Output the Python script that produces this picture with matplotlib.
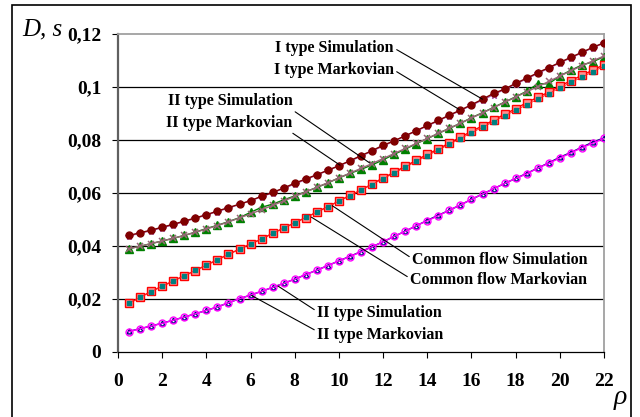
import matplotlib
matplotlib.use("Agg")
import matplotlib.pyplot as plt
from matplotlib.patches import Rectangle
import numpy as np

rho = [0.5, 1, 1.5, 2, 2.5, 3, 3.5, 4, 4.5, 5, 5.5, 6, 6.5, 7, 7.5, 8, 8.5, 9, 9.5, 10, 10.5,
       11, 11.5, 12, 12.5, 13, 13.5, 14, 14.5, 15, 15.5, 16, 16.5, 17, 17.5, 18, 18.5, 19,
       19.5, 20, 20.5, 21, 21.5, 22]

type1_sim = [0.0440, 0.0450, 0.0460, 0.0471, 0.0482, 0.0494, 0.0506, 0.0518, 0.0532, 0.0545,
             0.0558, 0.0571, 0.0588, 0.0602, 0.0619, 0.0637, 0.0653, 0.0669, 0.0686, 0.0703,
             0.0722, 0.0741, 0.0760, 0.0780, 0.0797, 0.0816, 0.0835, 0.0855, 0.0874, 0.0894,
             0.0913, 0.0933, 0.0954, 0.0976, 0.0992, 0.1014, 0.1033, 0.1054, 0.1073, 0.1093,
             0.1112, 0.1131, 0.1150, 0.1167]
type1_mark = [0.0438, 0.0448, 0.0458, 0.0469, 0.0480, 0.0492, 0.0504, 0.0517, 0.0530, 0.0543,
              0.0557, 0.0571, 0.0586, 0.0601, 0.0617, 0.0634, 0.0651, 0.0668, 0.0685, 0.0702,
              0.0720, 0.0739, 0.0758, 0.0777, 0.0796, 0.0815, 0.0834, 0.0853, 0.0872, 0.0892,
              0.0911, 0.0931, 0.0951, 0.0971, 0.0991, 0.1011, 0.1031, 0.1051, 0.1071, 0.1091,
              0.1110, 0.1129, 0.1148, 0.1166]
type2_sim = [0.0390, 0.0399, 0.0409, 0.0419, 0.0429, 0.0440, 0.0452, 0.0466, 0.0478, 0.0492,
             0.0507, 0.0527, 0.0546, 0.0558, 0.0574, 0.0589, 0.0605, 0.0621, 0.0638, 0.0657,
             0.0674, 0.0689, 0.0706, 0.0725, 0.0746, 0.0765, 0.0786, 0.0805, 0.0825, 0.0844,
             0.0863, 0.0884, 0.0903, 0.0923, 0.0943, 0.0963, 0.0984, 0.1012, 0.1012, 0.1042,
             0.1063, 0.1083, 0.1095, 0.1115]
type2_mark = [0.0390, 0.0399, 0.0409, 0.0419, 0.0429, 0.0440, 0.0452, 0.0464, 0.0477, 0.0491,
              0.0506, 0.0521, 0.0537, 0.0553, 0.0570, 0.0587, 0.0604, 0.0621, 0.0639, 0.0657,
              0.0675, 0.0693, 0.0711, 0.0730, 0.0749, 0.0768, 0.0787, 0.0806, 0.0825, 0.0844,
              0.0863, 0.0883, 0.0902, 0.0922, 0.0942, 0.0962, 0.0982, 0.1001, 0.1021, 0.1041,
              0.1061, 0.1080, 0.1099, 0.1117]
common_sim = [0.0184, 0.0206, 0.0229, 0.0248, 0.0268, 0.0288, 0.0307, 0.0328, 0.0348, 0.0369,
              0.0388, 0.0408, 0.0426, 0.0448, 0.0467, 0.0488, 0.0507, 0.0528, 0.0548, 0.0570,
              0.0591, 0.0611, 0.0634, 0.0657, 0.0678, 0.0701, 0.0723, 0.0746, 0.0766, 0.0789,
              0.0810, 0.0833, 0.0853, 0.0875, 0.0897, 0.0918, 0.0941, 0.0961, 0.0981, 0.1003,
              0.1024, 0.1044, 0.1064, 0.1084]
common_mark = [0.0185, 0.0206, 0.0228, 0.0248, 0.0268, 0.0288, 0.0308, 0.0328, 0.0348, 0.0368,
               0.0388, 0.0408, 0.0428, 0.0448, 0.0468, 0.0488, 0.0508, 0.0528, 0.0549, 0.0569,
               0.0590, 0.0611, 0.0632, 0.0654, 0.0675, 0.0697, 0.0719, 0.0741, 0.0762, 0.0784,
               0.0805, 0.0827, 0.0848, 0.0869, 0.0891, 0.0912, 0.0933, 0.0954, 0.0975, 0.0996,
               0.1017, 0.1037, 0.1058, 0.1078]
bottom_sim = [0.0078, 0.0088, 0.0098, 0.0109, 0.0120, 0.0132, 0.0144, 0.0157, 0.0170, 0.0186,
              0.0201, 0.0215, 0.0229, 0.0244, 0.0259, 0.0275, 0.0292, 0.0309, 0.0326, 0.0344,
              0.0361, 0.0379, 0.0397, 0.0416, 0.0436, 0.0456, 0.0476, 0.0497, 0.0516, 0.0535,
              0.0555, 0.0576, 0.0596, 0.0616, 0.0636, 0.0655, 0.0674, 0.0694, 0.0714, 0.0735,
              0.0753, 0.0773, 0.0792, 0.0808]
bottom_mark = [0.0077, 0.0088, 0.0098, 0.0108, 0.0120, 0.0132, 0.0144, 0.0157, 0.0170, 0.0186,
               0.0201, 0.0215, 0.0229, 0.0244, 0.0259, 0.0275, 0.0292, 0.0309, 0.0326, 0.0344,
               0.0360, 0.0378, 0.0397, 0.0416, 0.0437, 0.0455, 0.0477, 0.0495, 0.0514, 0.0535,
               0.0555, 0.0576, 0.0596, 0.0616, 0.0636, 0.0655, 0.0672, 0.0694, 0.0712, 0.0732,
               0.0751, 0.0771, 0.0788, 0.0806]

x_ticks = [0, 2, 4, 6, 8, 10, 12, 14, 16, 18, 20, 22]
y_ticks = [0, 0.02, 0.04, 0.06, 0.08, 0.1, 0.12]
y_tick_labels = ["0", "0,02", "0,04", "0,06", "0,08", "0,1", "0,12"]

serif = ["Liberation Serif", "DejaVu Serif"]

fig = plt.figure(figsize=(6.4, 4.17), dpi=100)
fig.patch.set_facecolor("white")
ax = fig.add_axes([118/640, 1-352/417, (604-118)/640, (352-34)/417])

lw = 1.0
ax.plot(rho, type1_mark, color="#B060B0", lw=lw, marker="*", ms=5.5, mfc="#C080C0", mec="#B060B0", zorder=3)
ax.plot(rho, type1_sim, color="#800000", lw=lw, marker="o", ms=5, mfc="#800000", mec="#800000", zorder=4)
ax.plot(rho, type2_sim, color="#008000", lw=lw, marker="^", ms=5.5, mfc="#008000", mec="#008000", zorder=3)
ax.plot(rho, type2_mark, color="#996677", lw=lw, marker="x", ms=4.0, mew=1.1, mec="#996677", zorder=4)
ax.plot(rho, common_sim, color="#FF0000", lw=lw, marker="s", ms=5.2, mfc="#FF9090", mec="#FF0000", mew=1.0, zorder=3)
ax.plot(rho, common_mark, color="#FF2020", lw=0.6, marker="s", ms=2.6, mfc="#008080", mec="#008080", zorder=4)
ax.plot(rho, bottom_sim, color="#000080", lw=lw, marker="^", ms=3.5, mfc="none", mec="#000080", zorder=3)
ax.plot(rho, bottom_mark, color="#FF00FF", lw=lw, marker="o", ms=5, mfc="none", mec="#FF00FF", mew=1.0, zorder=4)

ax.set_xlim(0, 22)
ax.set_ylim(0, 0.12)
ax.set_xticks(x_ticks)
ax.set_yticks(y_ticks)
ax.set_yticklabels(y_tick_labels)
for lab in ax.get_xticklabels() + ax.get_yticklabels():
    lab.set_fontfamily(serif)
    lab.set_fontweight("bold")
    lab.set_fontsize(14)
ax.tick_params(axis="y", direction="out", length=4, width=0.8, pad=8, color="black")
ax.tick_params(axis="x", direction="out", length=4, width=0.8, pad=11, color="black")

for yv in y_ticks[1:-1]:
    ax.axhline(yv, color="black", lw=0.9, zorder=1)

ax.spines["left"].set_color("#606060")
ax.spines["left"].set_linewidth(1.6)
ax.spines["bottom"].set_color("black")
ax.spines["bottom"].set_linewidth(0.9)
for s in ["top", "right"]:
    ax.spines[s].set_color("#A0A0A0")
    ax.spines[s].set_linewidth(1.3)

afont = dict(fontfamily=serif, fontweight="bold", fontsize=11.5)

def ann(text, xy, xytext, ha, relpos):
    ax.annotate(text, xy=xy, xytext=xytext, ha=ha, va="center",
                arrowprops=dict(arrowstyle="-", color="black", lw=0.8,
                                shrinkA=0, shrinkB=0, relpos=relpos),
                zorder=6, **afont)

ann("I type Simulation", (16.5, 0.0954), (12.49, 0.1147), "right", (1, 0.5))
ann("I type Markovian", (15.45, 0.0915), (12.49, 0.1064), "right", (1, 0.5))
ann("II type Simulation", (11.4, 0.0713), (7.9, 0.0947), "right", (0.97, 0.1))
ann("II type Markovian", (10.05, 0.0705), (7.9, 0.0866), "right", (0.97, 0.0))
ann("Common flow Simulation", (9.7, 0.0552), (13.31, 0.0347), "left", (0, 0.6))
ann("Common flow Markovian", (8.75, 0.0509), (13.22, 0.0272), "left", (0, 0.6))
ann("II type Simulation", (7.24, 0.0249), (9.01, 0.0147), "left", (0, 0.6))
ann("II type Markovian", (6.05, 0.0213), (9.01, 0.0066), "left", (0, 0.7))

fig.text(22/640, 1-29/417, "D, s", fontfamily=serif, fontstyle="italic", fontsize=18,
         ha="left", va="center")
fig.text(620/640, 1-397/417, "ρ", fontfamily=serif, fontstyle="italic", fontsize=20,
         ha="center", va="center")

fig.patches.append(Rectangle((12/640, -0.02), (631-12)/640, 1.02-5/417, transform=fig.transFigure,
                             fill=False, edgecolor="black", lw=1.2))

fig.savefig("out.png", dpi=100)
